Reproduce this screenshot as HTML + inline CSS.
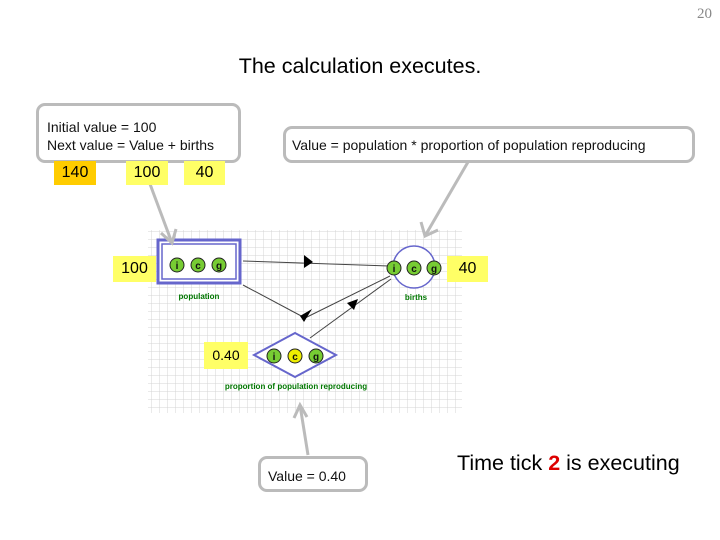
<!DOCTYPE html>
<html><head><style>
body{margin:0;width:720px;height:540px;background:#fff;position:relative;overflow:hidden;font-family:"Liberation Sans",sans-serif}
.a{position:absolute}
.box{position:absolute;border:3px solid #bbb;border-radius:9px;background:#fff;box-sizing:border-box;font-size:14px;color:#111}
.y{position:absolute;background:#ffff66;font-size:16px;text-align:center;box-sizing:border-box}
</style></head><body>
<div class="a" style="right:8px;top:6px;font-family:'Liberation Serif',serif;font-size:15px;color:#888">20</div>
<div class="a" style="left:0;width:720px;top:54px;text-align:center;font-size:21.5px;color:#000">The calculation executes.</div>
<svg class="a" style="left:0;top:0" width="720" height="540">
<defs>
<pattern id="g" width="8" height="8" patternUnits="userSpaceOnUse"><path d="M8 0V8H0" fill="none" stroke="#d4d4d4" stroke-width="1"/></pattern>
</defs>
<rect x="148" y="230" width="314" height="183" fill="url(#g)"/>
<line x1="243" y1="261" x2="390" y2="266" stroke="#444" stroke-width="1"/>
<polygon points="304,255 313,262 304,268" fill="#000"/>
<line x1="243" y1="285" x2="305" y2="318" stroke="#444"/>
<line x1="390" y1="276" x2="305" y2="318" stroke="#444"/>
<polygon points="300,316 312,309 304,322" fill="#000"/>
<line x1="310" y1="338" x2="391" y2="279" stroke="#444"/>
<polygon points="347,303 358,299 354,310" fill="#000"/>
<rect x="158" y="240" width="82" height="43" fill="#fff" stroke="#66c" stroke-width="3"/>
<rect x="162" y="244" width="74" height="35" fill="none" stroke="#66c" stroke-width="1.5"/>
<circle cx="414" cy="267" r="21" fill="#fff" stroke="#66c" stroke-width="1.5"/>
<polygon points="254,355 295,333 336,355 295,377" fill="#fff" stroke="#66c" stroke-width="2"/>
<g stroke="#222" stroke-width="1">
<circle cx="177" cy="265" r="7" fill="#7c3"/><circle cx="198" cy="265" r="7" fill="#7c3"/><circle cx="219" cy="265" r="7" fill="#7c3"/>
<circle cx="394" cy="268" r="7" fill="#7c3"/><circle cx="414" cy="268" r="7" fill="#7c3"/><circle cx="434" cy="268" r="7" fill="#7c3"/>
<circle cx="274" cy="356" r="7" fill="#7c3"/><circle cx="295" cy="356" r="7" fill="#ee0"/><circle cx="316" cy="356" r="7" fill="#7c3"/>
</g>
<g font-family="Liberation Sans" font-weight="bold" font-size="10" text-anchor="middle" fill="#111">
<text x="177" y="269">i</text><text x="198" y="269">c</text><text x="219" y="269">g</text>
<text x="394" y="272">i</text><text x="414" y="272">c</text><text x="434" y="272">g</text>
<text x="274" y="360">i</text><text x="295" y="360">c</text><text x="316" y="360">g</text>
</g>
<g font-family="Liberation Sans" font-weight="bold" font-size="8" fill="#070" text-anchor="middle">
<text x="199" y="299">population</text><text x="416" y="300">births</text>
<text x="296" y="389">proportion of population reproducing</text>
</g>
<g stroke="#bbb" stroke-width="3" fill="none">
<line x1="150" y1="184" x2="172" y2="243"/><polyline points="161,233 172,243 176,229"/>
<line x1="468" y1="162" x2="425" y2="236"/><polyline points="421,222 425,236 438,230"/>
<line x1="308" y1="455" x2="300" y2="405"/><polyline points="294,418 300,405 307,417"/>
</g>
</svg>
<div class="box" style="left:36px;top:103px;width:205px;height:60px;padding:12px 0 0 8px;line-height:18px">Initial value = 100<br>Next value = Value + births</div>
<div class="y" style="left:54px;top:161px;width:42px;height:24px;line-height:24px;background:#ffcc00">140</div>
<div class="y" style="left:126px;top:161px;width:42px;height:24px;line-height:24px">100</div>
<div class="y" style="left:184px;top:161px;width:41px;height:24px;line-height:24px">40</div>
<div class="box" style="left:283px;top:126px;width:412px;height:37px;padding:8px 0 0 6px">Value = population * proportion of population reproducing</div>
<div class="box" style="left:258px;top:456px;width:110px;height:36px;padding:9px 0 0 7px">Value = 0.40</div>
<div class="y" style="left:113px;top:256px;width:43px;height:26px;line-height:26px">100</div>
<div class="y" style="left:447px;top:256px;width:41px;height:26px;line-height:26px">40</div>
<div class="y" style="left:204px;top:342px;width:44px;height:27px;line-height:27px;font-size:14px">0.40</div>
<div class="a" style="left:457px;top:451px;font-size:21.5px;color:#000">Time tick <b style="color:#d00">2</b> is executing</div>
</body></html>
